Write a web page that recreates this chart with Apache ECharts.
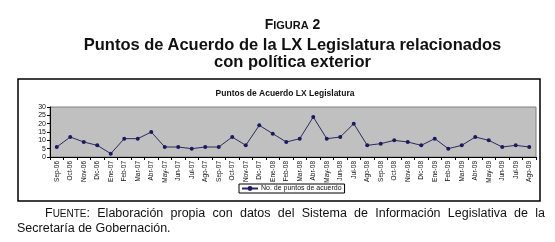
<!DOCTYPE html>
<html>
<head>
<meta charset="utf-8">
<script src="https://cdn.jsdelivr.net/npm/echarts@6/dist/echarts.min.js"></script>
<style>
	body{ margin:0; background:#fff; font-family:'Liberation Sans', Arial, sans-serif; }
	.page{ position:relative; width:555px; height:242px; overflow:hidden; }
	.fig{ position:absolute; left:0; width:585px; text-align:center; top:16px; font-weight:bold; font-size:14px; color:#111; }
	.fig small{ font-size:11px; }
	.head{ position:absolute; left:0; width:585px; top:36px; text-align:center; font-weight:bold; font-size:16.5px; line-height:17px; color:#111; }
	.src1{ position:absolute; left:45px; width:500px; top:206px; font-size:12.5px; line-height:15px; text-align:justify; text-align-last:justify; color:#111; }
	.src2{ position:absolute; left:17px; top:221px; font-size:12.5px; line-height:15px; color:#111; }
	.src1 small{ font-size:10px; }
	#chart{ position:absolute; left:0; top:0; width:555px; height:242px; }
</style>
</head>
<body>
<div class="page">
	<div id="chart"></div>
	<div class="fig">F<small>IGURA</small> 2</div>
	<div class="head">Puntos de Acuerdo de la LX Legislatura relacionados<br>con política exterior</div>
	<div class="src1">F<small>UENTE</small>: Elaboración propia con datos del Sistema de Información Legislativa de la</div>
	<div class="src2">Secretaría de Gobernación.</div>
</div>
<script>
	// meses de la LX Legislatura
	var months = ['Sep-06','Oct-06','Nov-06','Dic-06','Ene-07','Feb-07','Mar-07','Abr-07','May-07','Jun-07','Jul-07','Ago-07',
		'Sep-07','Oct-07','Nov-07','Dic-07','Ene-08','Feb-08','Mar-08','Abr-08','May-08','Jun-08','Jul-08','Ago-08',
		'Sep-08','Oct-08','Nov-08','Dic-08','Ene-09','Feb-09','Mar-09','Abr-09','May-09','Jun-09','Jul-09','Ago-09'];
	var puntos = [6,12,9,7,2,11,11,15,6,6,5,6,
		6,12,7,19,14,9,11,24,11,12,20,7,
		8,10,9,7,11,5,7,12,10,6,7,6];
	var serieName = 'No. de puntos de acuerdo';
	var chartTitle = 'Puntos de Acuerdo LX Legislatura';

	var mychart = echarts.init(document.getElementById('chart'));
	var option = {
		animation: false,
		title: {
			text: chartTitle,
			left: 280,
			textAlign: 'center',
			top: 84,
			textStyle: { fontSize: 8.5, fontWeight: 'bold', color: '#111', fontFamily: 'Liberation Sans' }
		},
		graphic: [{
			type: 'rect',
			shape: { x: 18, y: 79, width: 522, height: 122 },
			style: { fill: 'none', stroke: '#000', lineWidth: 1.5 },
			z: 0
		}],
		legend: {
			data: [serieName],
			left: 239,
			top: 184,
			padding: [1, 3, 1, 2],
			borderColor: '#000',
			borderWidth: 1,
			itemWidth: 16,
			itemHeight: 6,
			itemGap: 2,
			textStyle: { fontSize: 7, color: '#111', fontFamily: 'Liberation Sans', padding: [0, 0, 0, -2] }
		},
		grid: {
			left: 50,
			top: 107,
			width: 486,
			height: 50,
			show: true,
			backgroundColor: '#c0c0c0',
			borderColor: '#808080',
			borderWidth: 1
		},
		xAxis: {
			type: 'category',
			data: months,
			boundaryGap: true,
			axisLine: { lineStyle: { color: '#000', width: 1 } },
			axisTick: { show: true, alignWithLabel: false, length: 3, lineStyle: { color: '#000' } },
			axisLabel: { rotate: 90, interval: 0, fontSize: 6.5, color: '#111', margin: 4, fontFamily: 'Liberation Sans' },
			splitLine: { show: false }
		},
		yAxis: {
			type: 'value',
			min: 0,
			max: 30,
			interval: 5,
			axisLine: { show: true, lineStyle: { color: '#000', width: 1 } },
			axisTick: { show: true, length: 3, lineStyle: { color: '#000' } },
			axisLabel: { fontSize: 7, color: '#111', margin: 4, fontFamily: 'Liberation Sans' },
			splitLine: { show: false }
		},
		series: [{
			name: serieName,
			type: 'line',
			data: puntos,
			symbol: 'circle',
			symbolSize: 4,
			itemStyle: { color: '#1a1a5e' },
			lineStyle: { color: '#2a2a60', width: 1 }
		}]
	};
	mychart.setOption(option, true);
</script>
</body>
</html>
